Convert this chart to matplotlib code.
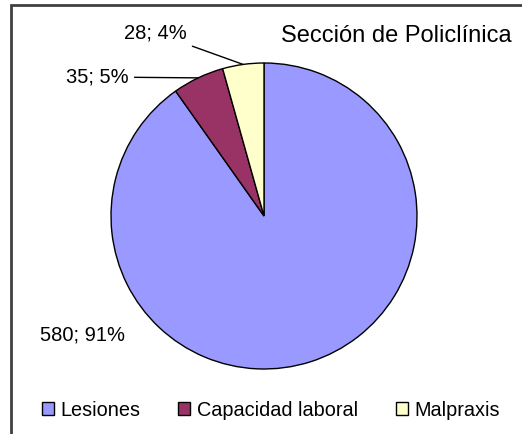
import numpy as np
import matplotlib
matplotlib.use("Agg")
import matplotlib.pyplot as plt
from matplotlib.patches import Rectangle

plt.rcParams['font.family'] = ['Liberation Sans', 'DejaVu Sans']

categories = ['Lesiones', 'Capacidad laboral', 'Malpraxis']
values = [580, 35, 28]
percents = [91, 5, 4]
colours = ['#9999FF', '#993366', '#FFFFCC']
title = 'Sección de Policlínica'

W, H = 522, 434
fig = plt.figure(figsize=(W / 100, H / 100), dpi=100)

# pie centre and radius in pixels
cx, cy, r = 264, 216, 153
ax = fig.add_axes([(cx - r) / W, (H - cy - r) / H, 2 * r / W, 2 * r / H])
ax.axis('off')

wedges, _ = ax.pie(values, colors=colours, startangle=90, counterclock=False,
                   radius=1, center=(0, 0), frame=False,
                   wedgeprops=dict(edgecolor='black', linewidth=1.0))
ax.set_xlim(-1, 1)
ax.set_ylim(-1, 1)

labels = ['%d; %d%%' % (v, p) for v, p in zip(values, percents)]

def px(x, y):
  return ((x - cx) / r, (cy - y) / r)

# label positions (pixels)
label_pos = [(40, 335), (129, 77), (187, 33)]
for i, w in enumerate(wedges):
  mid = np.deg2rad((w.theta1 + w.theta2) / 2)
  edge = (np.cos(mid), np.sin(mid))
  tx, ty = px(*label_pos[i])
  if i == 0:
    ax.text(tx, ty, labels[i], ha='left', va='center', fontsize=14.5, clip_on=False)
  else:
    ax.annotate(labels[i], xy=edge, xytext=(tx, ty), ha='right', va='center',
                fontsize=14.5, annotation_clip=False,
                arrowprops=dict(arrowstyle='-', color='black', lw=1.0,
                                shrinkA=2, shrinkB=0))

fig.text(512 / W, 1 - 36 / H, title, ha='right', va='center', fontsize=17)

leg = fig.legend(wedges, categories, loc='center', bbox_to_anchor=(271 / W, 1 - 410 / H),
                 ncol=3, frameon=False, fontsize=14.3, handlelength=0.6, handleheight=0.6,
                 handletextpad=0.35, columnspacing=1.9)

fig.patches.append(Rectangle((11 / W, -0.1), 1.2, 1.1 - 5 / H, transform=fig.transFigure,
                             fill=False, edgecolor='#404040', linewidth=2))

fig.savefig('out.png', dpi=100)
